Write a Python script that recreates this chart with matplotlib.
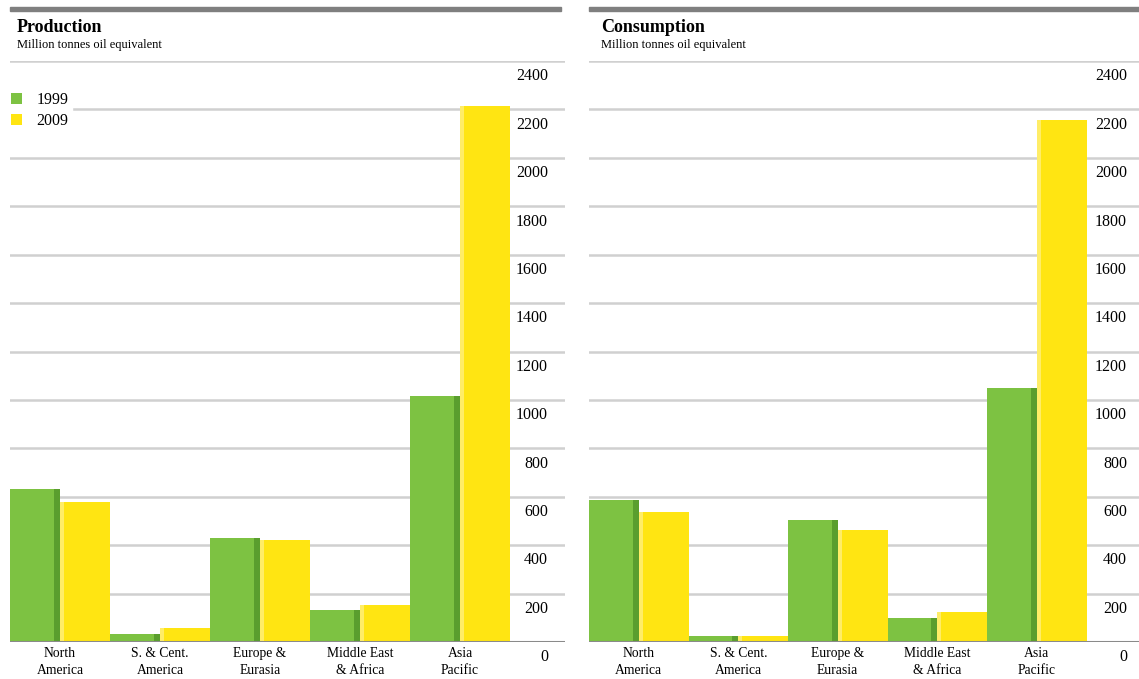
import matplotlib

matplotlib.use("Agg")
import matplotlib.pyplot as plt
from matplotlib.patches import Rectangle
import numpy as np

plt.rcParams["font.family"] = ["Liberation Serif", "DejaVu Serif"]

REGIONS = ["North\nAmerica", "S. & Cent.\nAmerica", "Europe &\nEurasia",
           "Middle East\n& Africa", "Asia\nPacific"]
YEARS = ["1999", "2009"]
PROD_1999 = [632, 33, 430, 132, 1016]
PROD_2009 = [578, 58, 421, 153, 2215]
CONS_1999 = [587, 25, 504, 99, 1050]
CONS_2009 = [537, 23, 463, 124, 2157]
YTICKS = list(range(0, 2401, 200))

GREEN = "#7DC242"
GREEN_DARK = "#5A9E2E"
YELLOW = "#FFE512"
YELLOW_LIGHT = "#FFF3A0"

W, H = 1139, 679


def fx(x):
    return x / W


def fy(y):
    return 1 - y / H


def panel(fig, x0, x1, group_px, title, title_x, v1999, v2009, legend=False):
    ax = fig.add_axes([fx(x0), fy(642), fx(x1 - x0), (642 - 61) / H])
    n = len(REGIONS)
    x = np.arange(n)
    ax.set_xlim(-0.5, -0.5 + (x1 - x0) / group_px)
    ax.set_ylim(0, 2400)
    for v in YTICKS[1:]:
        ax.axhline(v, color="#d0d0d0", lw=1.8, zorder=0)
    b1 = ax.bar(x - 0.25, v1999, width=0.5, color=GREEN, zorder=2, label=YEARS[0])
    b2 = ax.bar(x + 0.25, v2009, width=0.5, color=YELLOW, zorder=2, label=YEARS[1])
    # shaded edges for a bit of depth
    ax.bar(x - 0.03, v1999, width=0.06, color=GREEN_DARK, zorder=3)
    ax.bar(x + 0.02, v2009, width=0.04, color=YELLOW_LIGHT, zorder=3, alpha=0.6)
    ax.axhline(0, color="#8a8a8a", lw=2.2, zorder=4)
    for s in ax.spines.values():
        s.set_visible(False)
    ax.set_yticks([])
    ax.set_xticks(x)
    ax.set_xticklabels(REGIONS, fontsize=9.8, linespacing=1.4)
    ax.tick_params(axis="x", length=0, pad=3.5)
    label_x = (x1 - 12 - x0) / (x1 - x0) if x1 > 600 else (548 - x0) / (x1 - x0)
    for v in YTICKS:
        ax.annotate(str(v), xy=(label_x, v), xycoords=("axes fraction", "data"),
                    xytext=(0, -11), textcoords="offset points",
                    ha="right", va="center", fontsize=11.5)
    # top rule and titles
    fig.patches.append(Rectangle((fx(x0), fy(11)), fx(x1 - x0 - (4 if x1 < 600 else 0)),
                                 4.5 / H, transform=fig.transFigure,
                                 color="#7f7f7f", zorder=5))
    fig.text(fx(title_x), fy(27), title, fontsize=13, fontweight="bold",
             ha="left", va="center")
    fig.text(fx(title_x), fy(45), "Million tonnes oil equivalent", fontsize=9,
             ha="left", va="center")
    if legend:
        leg = ax.legend(handles=[b1, b2], loc="upper left",
                        bbox_to_anchor=(fx(8), fy(89)),
                        bbox_transform=fig.transFigure,
                        fontsize=11.5, frameon=True, facecolor="white",
                        edgecolor="white", framealpha=1, handlelength=0.7,
                        handleheight=0.7, handletextpad=0.9, labelspacing=0.3,
                        borderpad=0.2, borderaxespad=0)
        leg.set_zorder(6)
    return ax


fig = plt.figure(figsize=(W / 100, H / 100), dpi=100)
panel(fig, 10, 565, 100, "Production", 17, PROD_1999, PROD_2009, legend=True)
panel(fig, 589, 1139, 99.5, "Consumption", 601, CONS_1999, CONS_2009)
fig.savefig("out.png", dpi=100)
